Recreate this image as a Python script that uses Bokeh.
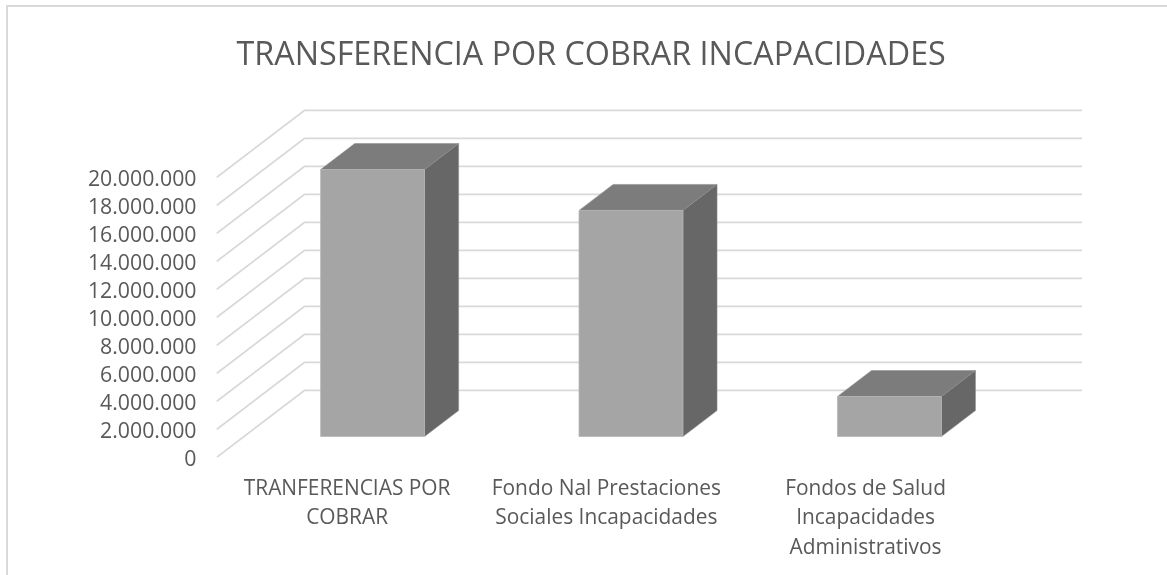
from bokeh.plotting import figure
from bokeh.models import FixedTicker, Range1d, Title
from bokeh.embed import file_html
from bokeh.resources import INLINE

title_text = "TRANSFERENCIA POR COBRAR INCAPACIDADES"
categories = ["TRANFERENCIAS POR\nCOBRAR",
              "Fondo Nal Prestaciones\nSociales Incapacidades",
              "Fondos de Salud\nIncapacidades\nAdministrativos"]
values = [19070000, 16150000, 2860000]
y_ticks = [0, 2000000, 4000000, 6000000, 8000000, 10000000,
           12000000, 14000000, 16000000, 18000000, 20000000]
y_tick_labels = ["0", "2.000.000", "4.000.000", "6.000.000", "8.000.000", "10.000.000",
                 "12.000.000", "14.000.000", "16.000.000", "18.000.000", "20.000.000"]

FONT = "Open Sans"
TEXT = "#595959"
GRID = "#d9d9d9"
FRONT, TOP, SIDE = "#a5a5a5", "#7c7c7c", "#676767"

DX, DY = 0.339, 4786000
D0, D1 = 0.313, 0.701
BAR_W = 0.401
BAR_STEP = 0.997
BAR_START = 0.496
LABEL_SHIFT = 0.004


def proj(x, v, d):
    return x + d * DX, v + d * DY


p = figure(width=1161, height=570, output_backend="svg", toolbar_location=None,
           x_range=Range1d(0, 3 + DX + 0.002), y_range=Range1d(0, 25500000),
           frame_width=866, frame_height=357,
           min_border_left=218, min_border_right=77, min_border_top=103, min_border_bottom=110,
           outline_line_color=None, background_fill_color="white", border_fill_color=None,
           margin=(-3, 0, 0, -2))
p.grid.visible = False

for v in y_ticks:
    a = proj(0, v, 0)
    b = proj(0, v, 1)
    c = proj(3, v, 1)
    p.line([a[0], b[0], c[0]], [a[1], b[1], c[1]], line_color=GRID, line_width=1.75)

for i, val in enumerate(values):
    x0 = BAR_START + i * BAR_STEP - BAR_W / 2
    x1 = x0 + BAR_W
    fbl, fbr = proj(x0, 0, D0), proj(x1, 0, D0)
    ftl, ftr = proj(x0, val, D0), proj(x1, val, D0)
    bbr = proj(x1, 0, D1)
    btl, btr = proj(x0, val, D1), proj(x1, val, D1)
    p.patch([ftr[0], btr[0], bbr[0], fbr[0]], [ftr[1], btr[1], bbr[1], fbr[1]],
            fill_color=SIDE, line_color="#8a8a8a", line_width=0.5)
    p.patch([ftl[0], btl[0], btr[0], ftr[0]], [ftl[1], btl[1], btr[1], ftr[1]],
            fill_color=TOP, line_color="#8a8a8a", line_width=0.5)
    p.patch([fbl[0], ftl[0], ftr[0], fbr[0]], [fbl[1], ftl[1], ftr[1], fbr[1]],
            fill_color=FRONT, line_color="#b5b5b5", line_width=0.75)

ya = p.yaxis[0]
ya.ticker = FixedTicker(ticks=y_ticks)
ya.major_label_overrides = dict(zip(y_ticks, y_tick_labels))
ya.major_label_text_font = FONT
ya.major_label_text_font_size = "21.3px"
ya.major_label_text_color = TEXT
ya.major_label_standoff = 14
ya.axis_line_color = None
ya.major_tick_line_color = None
ya.minor_tick_line_color = None

xa = p.xaxis[0]
x_ticks = [i + 0.5 + LABEL_SHIFT for i in range(len(categories))]
xa.ticker = FixedTicker(ticks=x_ticks)
xa.major_label_overrides = dict(zip(x_ticks, categories))
xa.major_label_text_font = FONT
xa.major_label_text_font_size = "20.9px"
xa.major_label_text_color = TEXT
xa.major_label_text_line_height = 1.06
xa.major_label_standoff = 9
xa.axis_line_color = None
xa.major_tick_line_color = None
xa.minor_tick_line_color = None

t = Title(text=title_text, align="left", offset=20, standoff=53,
          text_font=FONT, text_font_size="32.3px", text_font_style="normal", text_color=TEXT)
p.add_layout(t, "above")

# the chart area's border: only its top and left edges are in view
border_css = ("<style>html::before{content:'';position:fixed;left:6px;top:5px;right:0;bottom:0;"
              "border-left:2px solid #d9d9d9;border-top:2px solid #d9d9d9;pointer-events:none;}</style>")
html = file_html(p, INLINE).replace("</head>", border_css + "</head>")
open("out.html", "w").write(html)
